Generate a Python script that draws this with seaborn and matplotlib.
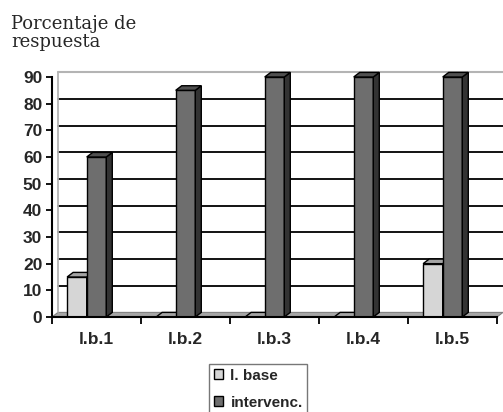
import matplotlib
matplotlib.use("Agg")
import matplotlib.pyplot as plt
import seaborn as sns
import pandas as pd
from matplotlib.patches import Polygon, Patch

categories = ["l.b.1", "l.b.2", "l.b.3", "l.b.4", "l.b.5"]
series_names = ["l. base", "intervenc."]
base_values = [15, 0, 0, 0, 20]
interv_values = [60, 85, 90, 90, 90]
yticks = [0, 10, 20, 30, 40, 50, 60, 70, 80, 90]

front = {"l. base": "#d6d6d6", "intervenc.": "#6e6e6e"}
top = {"l. base": "#a4a4a4", "intervenc.": "#505050"}
side = {"l. base": "#8a8a8a", "intervenc.": "#333333"}

sns.set_style("white")
plt.rcParams["font.family"] = ["Liberation Sans", "DejaVu Sans"]

df = pd.DataFrame({
    "cat": categories * 2,
    "serie": [series_names[0]] * 5 + [series_names[1]] * 5,
    "val": base_values + interv_values,
})

W, H = 503, 412
fig = plt.figure(figsize=(W / 100, H / 100), dpi=100)
ax = fig.add_axes([52 / W, (H - 317) / H, (497 - 52) / W, (317 - 77) / H])

sns.barplot(data=df, x="cat", y="val", hue="serie", hue_order=series_names,
            palette=front, width=0.44, gap=0, edgecolor="black", linewidth=1,
            errorbar=None, ax=ax, zorder=3, legend=False)

ax.set_xlim(-0.5, 4.5)
ax.set_ylim(0, 90)

# depth offsets in data units
dx = 6 / 89.0
dy = 4.6 / (240 / 90.0)

# floor
ax.add_patch(Polygon([(-0.5, 0), (-0.5 + dx, dy), (4.5 + dx, dy), (4.5, 0)],
                     closed=True, facecolor="#a6a6a6", edgecolor="#808080",
                     linewidth=0.8, zorder=1, clip_on=False))
# back wall lines
for v in yticks[1:-1]:
    ax.plot([-0.5 + dx, 4.5 + dx], [v + dy, v + dy], color="black", lw=1.3,
            zorder=1.5, clip_on=False)
ax.plot([-0.5 + dx, 4.5 + dx], [90 + dy, 90 + dy], color="#b4b4b4", lw=1.5,
        zorder=1.5, clip_on=False)
ax.plot([-0.5 + dx, -0.5 + dx], [dy, 90 + dy], color="#b4b4b4", lw=1.3,
        zorder=1.5, clip_on=False)

# shift bars and add 3D faces
for ci, cont in enumerate(ax.containers):
    name = series_names[ci]
    for p in cont.patches:
        p.set_x(p.get_x() - 0.11)
        p.set_zorder(3 + ci)
        x0 = p.get_x()
        x1 = x0 + p.get_width()
        h = p.get_height()
        ax.add_patch(Polygon([(x1, 0), (x1 + dx, dy), (x1 + dx, h + dy), (x1, h)],
                             closed=True, facecolor=side[name], edgecolor="black",
                             linewidth=1, zorder=3 + ci, clip_on=False))
        ax.add_patch(Polygon([(x0, h), (x0 + dx, h + dy), (x1 + dx, h + dy), (x1, h)],
                             closed=True, facecolor=top[name], edgecolor="black",
                             linewidth=1, zorder=3 + ci, clip_on=False))

ax.set_xlabel("")
ax.set_ylabel("")
ax.set_yticks(yticks)
ax.set_yticklabels([str(v) for v in yticks], fontsize=12.5, fontweight="bold")
ax.set_xticks(range(len(categories)))
ax.set_xticklabels(categories, fontsize=12.5, fontweight="bold")
ax.set_xticks([i - 0.5 for i in range(len(categories) + 1)], minor=True)
ax.tick_params(axis="x", which="major", length=0, pad=11)
ax.tick_params(axis="x", which="minor", length=5, width=1.3, direction="out",
               color="black", bottom=True)
ax.tick_params(axis="y", length=4.5, width=1.3, direction="out", color="black",
               left=True, pad=2.5)

for s in ["top", "right"]:
    ax.spines[s].set_visible(False)
for s in ["left", "bottom"]:
    ax.spines[s].set_color("black")
    ax.spines[s].set_linewidth(1.5)
    ax.spines[s].set_zorder(6)

fig.text(11 / W, 1 - 15 / H, "Porcentaje de\nrespuesta", family="DejaVu Serif",
         fontsize=13, va="top", ha="left", linespacing=1.0)

handles = [Patch(facecolor=front[n], edgecolor="black", linewidth=1) for n in series_names]
leg = fig.legend(handles, series_names, loc="upper left",
                 bbox_to_anchor=(209 / W, 1 - 364 / H), borderaxespad=0,
                 frameon=True, fancybox=False, edgecolor="#555555",
                 prop={"weight": "bold", "size": 11}, handlelength=0.6,
                 handleheight=0.6, handletextpad=0.5, labelspacing=0.85,
                 borderpad=0.3)
leg.get_frame().set_linewidth(1)

fig.savefig("out.png", dpi=100)
